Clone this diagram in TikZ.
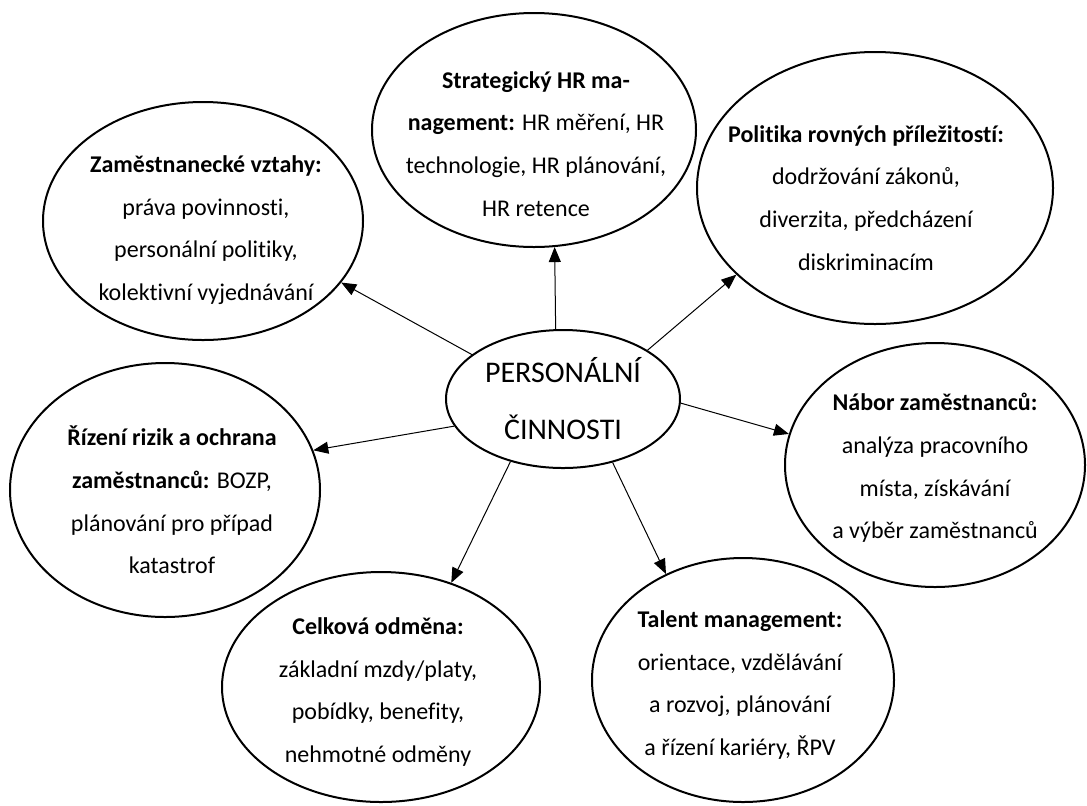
\documentclass[tikz,border=0pt]{standalone}
\usepackage{fontspec}
\setmainfont{Carlito}[Ligatures=NoCommon]
\usetikzlibrary{shapes.geometric}
\usetikzlibrary{arrows.meta}
\tikzset{>={Triangle[length=7.5pt,width=6pt]}}
\tikzset{bubble/.style={draw,ellipse,line width=1pt,inner sep=0pt}}
\tikzset{txt/.style={align=center,inner sep=0pt,font=\fontsize{12}{21.35}\selectfont}}
\tikzset{link/.style={->,line width=0.5pt}}

\begin{document}
\begin{tikzpicture}[x=0.5pt,y=-0.5pt]
  \useasboundingbox (0,0) rectangle (1087,805);
  % middle
  \node[bubble,minimum width=117pt,minimum height=69pt,align=center,font=\fontsize{15}{28.5}\selectfont] (cen) at (563,399) {PERSONÁLNÍ\\ČINNOSTI};

  % areas
  \node[bubble,minimum width=160pt,minimum height=119pt] (zam) at (203,221) {};
  \node[bubble,minimum width=162pt,minimum height=117pt] (str) at (534,130) {};
  \node[bubble,minimum width=178pt,minimum height=136pt] (pol) at (875,188) {};
  \node[bubble,minimum width=150pt,minimum height=122pt] (nab) at (935,465) {};
  \node[bubble,minimum width=151pt,minimum height=122pt] (tal) at (743,680) {};
  \node[bubble,minimum width=159pt,minimum height=115pt] (cel) at (381,687) {};
  \node[bubble,minimum width=155pt,minimum height=127pt] (riz) at (165,490) {};

  \node[txt] (zam-t) at (206,230) {\textbf{Zaměstnanecké vztahy:}\\práva povinnosti,\\personální politiky,\\kolektivní vyjednávání};
  \node[txt] (str-t) at (536,144) {\textbf{Strategický HR ma-}\\\textbf{nagement:} HR měření, HR\\technologie, HR plánování,\\HR retence};
  \node[txt] (pol-t) at (866,198) {\textbf{Politika rovných příležitostí:}\\dodržování zákonů,\\diverzita, předcházení\\diskriminacím};
  \node[txt] (nab-t) at (935,468) {\textbf{Nábor zaměstnanců:}\\analýza pracovního\\místa, získávání\\a výběr zaměstnanců};
  \node[txt] (tal-t) at (740,685) {\textbf{Talent management:}\\orientace, vzdělávání\\a rozvoj, plánování\\a řízení kariéry, ŘPV};
  \node[txt] (cel-t) at (378,692) {\textbf{Celková odměna:}\\základní mzdy/platy,\\pobídky, benefity,\\nehmotné odměny};
  \node[txt] (riz-t) at (172,500) {\textbf{Řízení rizik a ochrana}\\\textbf{zaměstnanců:} BOZP,\\plánování pro případ\\katastrof};

  % arrows
  \draw[link] (cen.154) -- (zam.-24);
  \draw[link] (cen.96) -- (str.-80);
  \draw[link] (cen.30) -- (pol.212);
  \draw[link] (cen.-2) -- (nab.168);
  \draw[link] (cen.-52) -- (tal.126);
  \draw[link] (cen.230) -- (cel.56);
  \draw[link] (cen.194) -- (riz.15);
\end{tikzpicture}
\end{document}
